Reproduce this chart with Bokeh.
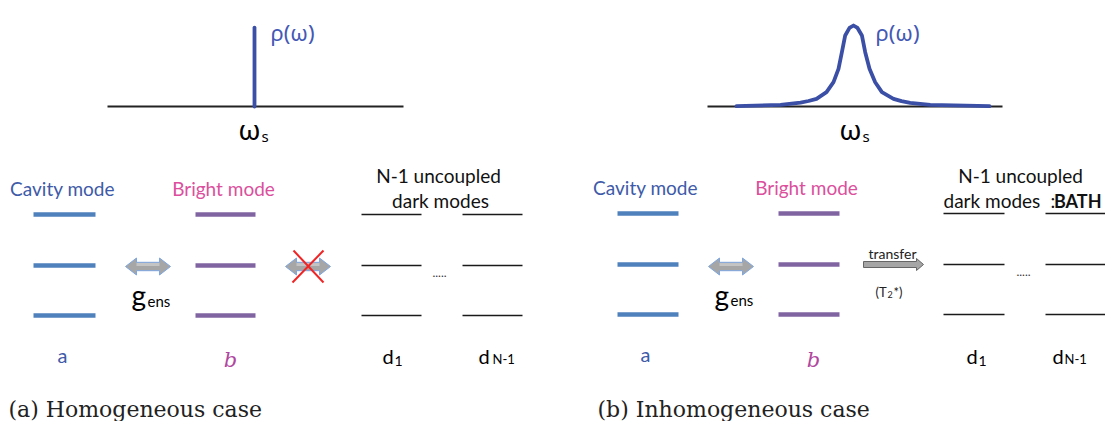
from bokeh.plotting import figure
from bokeh.models import Range1d
from bokeh.core.properties import value
from bokeh.embed import file_html
from bokeh.resources import INLINE

# ---------------- data ----------------
# spectral density rho(omega), omega relative to omega_s (arbitrary units), rho normalised
omega_hom = [0.0, 0.0]
rho_hom = [0.0, 0.975]
omega_inh = [-11.7, -7.3, -5.3, -4.5, -3.7, -2.7, -2.0, -1.5, -1.16, -0.83, -0.4, 0.0,
             0.4, 0.84, 1.17, 1.6, 2.17, 2.84, 4.0, 4.8, 5.67, 7.67, 13.6]
rho_inh = [0.004, 0.021, 0.049, 0.068, 0.095, 0.177, 0.30, 0.465, 0.67, 0.877, 0.97, 1.0,
           0.97, 0.877, 0.67, 0.465, 0.30, 0.177, 0.095, 0.066, 0.046, 0.021, 0.004]

panel_captions = ["(a) Homogeneous case", "(b) Inhomogeneous case"]
mode_titles = ["Cavity mode", "Bright mode"]
dark_title = ["N-1 uncoupled", "dark modes"]
mode_labels = ["a", "b", "d", "d"]
mode_subs = ["", "", "1", "N-1"]
levels_per_mode = 3

# ---------------- styling ----------------
BLUE_CURVE = "#3a4fa5"
BLUE_TXT = "#4458b5"
CAV_TXT = "#3e5aa8"
CAV_LVL = "#4f81bd"
BRI_TXT = "#db4f9d"
BRI_LVL = "#8064a2"
B_TXT = "#b0479e"
SANS = "Lato"

W, H = 1105, 421
p = figure(width=W, height=H, x_range=Range1d(0, W), y_range=Range1d(H, 0),
           output_backend="svg", toolbar_location=None, min_border=0,
           x_axis_type=None, y_axis_type=None)
p.grid.visible = False
p.outline_line_color = None
p.background_fill_color = "white"
p.border_fill_color = "white"


def txt(x, y, s, size, color="black", font=SANS, align="left", baseline="alphabetic", style="normal"):
    p.text(x=[x], y=[y], text=[s], text_font=value(font), text_font_size=value(f"{size}px"),
           text_color=color, text_align=align, text_baseline=baseline, text_font_style=style)


def double_arrow(x0, x1, yc, head_len=11, head_h=8.5, shaft_h=4.2, fill="#a6a6a6", line="#7ea6e0"):
    xs = [x0, x0 + head_len, x0 + head_len, x1 - head_len, x1 - head_len, x1,
          x1 - head_len, x1 - head_len, x0 + head_len, x0 + head_len]
    ys = [yc, yc - head_h, yc - shaft_h, yc - shaft_h, yc - head_h, yc,
          yc + head_h, yc + shaft_h, yc + shaft_h, yc + head_h]
    p.patch(xs, ys, fill_color=fill, line_color=line, line_width=1)
    # lighter upper highlight
    p.patch([x0 + head_len, x1 - head_len, x1 - head_len, x0 + head_len],
            [yc - shaft_h + 0.8, yc - shaft_h + 0.8, yc - 0.5, yc - 0.5],
            fill_color="#c4c4c4", line_color=None)


def spectrum(center, base, x0, x1, omega, rho, scale=10.0, amp=81.0):
    p.line([x0, x1], [base, base], line_color="#222222", line_width=2)
    xs = [center + o * scale for o in omega]
    ys = [base - r * amp for r in rho]
    p.line(xs, ys, line_color=BLUE_CURVE, line_width=3.8, line_join="round", line_cap="round")


def levels(x0, x1, ys, color, width):
    p.segment(x0=[x0] * len(ys), y0=ys, x1=[x1] * len(ys), y1=ys, line_color=color,
              line_width=width, line_cap="butt")


# ---------------- panel (a) ----------------
spectrum(254, 106, 107, 403, omega_hom, rho_hom)
txt(270, 31, "ρ(ω)", 22, BLUE_TXT, font="Noto Sans")
txt(249, 128, "ω", 28, "black", font="Noto Sans", align="center")
txt(261, 135, "s", 15, "black", font="Noto Sans")

ya = [214, 265, 315][:levels_per_mode]
txt(62, 188, mode_titles[0], 19, CAV_TXT, align="center")
txt(223, 188, mode_titles[1], 19, BRI_TXT, align="center")
txt(438, 175, dark_title[0], 19, "#111111", align="center")
txt(440, 200, dark_title[1], 19, "#111111", align="center")
levels(33, 95, ya, CAV_LVL, 4.5)
levels(195, 255, ya, BRI_LVL, 4.5)
levels(361, 421, ya, "#1a1a1a", 1.5)
levels(462, 522, ya, "#1a1a1a", 1.5)
txt(439, 272, ".....", 12, "#333333", align="center")

double_arrow(125, 170, 266)
txt(131, 294, "g", 28)
txt(147, 300, "ens", 15)
double_arrow(285, 330, 266)
p.segment(x0=[293, 323], y0=[250, 250], x1=[323, 292], y1=[282, 282], line_color="#f02424", line_width=2)

txt(62, 354, mode_labels[0], 20, CAV_TXT, align="center")
txt(230, 359, mode_labels[1], 21, B_TXT, font="DejaVu Serif", align="center", style="italic")
txt(382, 355, mode_labels[2], 20)
txt(394, 360, mode_subs[2], 14)
txt(478, 355, mode_labels[3], 20)
txt(492, 358, mode_subs[3], 13)

txt(8, 409, panel_captions[0], 22, "#222222", font="DejaVu Serif")

# ---------------- panel (b) ----------------
spectrum(853, 106, 707, 1002, omega_inh, rho_inh)
txt(875, 31, "ρ(ω)", 22, BLUE_TXT, font="Noto Sans")
txt(850, 128, "ω", 28, "black", font="Noto Sans", align="center")
txt(862, 135, "s", 15, "black", font="Noto Sans")

yb = [213, 264, 314][:levels_per_mode]
txt(645, 187, mode_titles[0], 19, CAV_TXT, align="center")
txt(806, 187, mode_titles[1], 19, BRI_TXT, align="center")
txt(1020, 175, dark_title[0], 19, "#111111", align="center")
txt(943, 200, dark_title[1], 19, "#111111")
txt(1050, 200, ":", 19, "#111111")
txt(1101, 200, "BATH", 18, "#111111", align="right", style="bold")
levels(617, 678, yb, CAV_LVL, 4.5)
levels(778, 839, yb, BRI_LVL, 4.5)
levels(943, 1004, yb, "#1a1a1a", 1.5)
levels(1045, 1105, yb, "#1a1a1a", 1.5)
txt(1023, 271, ".....", 12, "#333333", align="center")

double_arrow(708, 753, 266)
txt(714, 294, "g", 28)
txt(730, 299, "ens", 15)

# transfer arrow
tx0, tx1, tyc = 863, 923, 264
p.patch([tx0, tx1 - 7, tx1 - 7, tx1, tx1 - 7, tx1 - 7, tx0],
        [tyc - 3, tyc - 3, tyc - 6, tyc, tyc + 6, tyc + 3, tyc + 3],
        fill_color="#a6a6a6", line_color="#666666", line_width=1)
txt(892, 253, "transfer", 14, "#222222", align="center")
txt(875, 291, "(T", 13, "#222222")
txt(887, 294, "2", 9, "#222222")
txt(893, 291, "*)", 13, "#222222")

txt(645, 353, mode_labels[0], 20, CAV_TXT, align="center")
txt(813, 359, mode_labels[1], 21, B_TXT, font="DejaVu Serif", align="center", style="italic")
txt(966, 355, mode_labels[2], 20)
txt(978, 360, mode_subs[2], 14)
txt(1052, 355, mode_labels[3], 20)
txt(1064, 358, mode_subs[3], 13)

txt(597, 409, panel_captions[1], 22, "#222222", font="DejaVu Serif")

open("out.html", "w").write(file_html(p, INLINE))
